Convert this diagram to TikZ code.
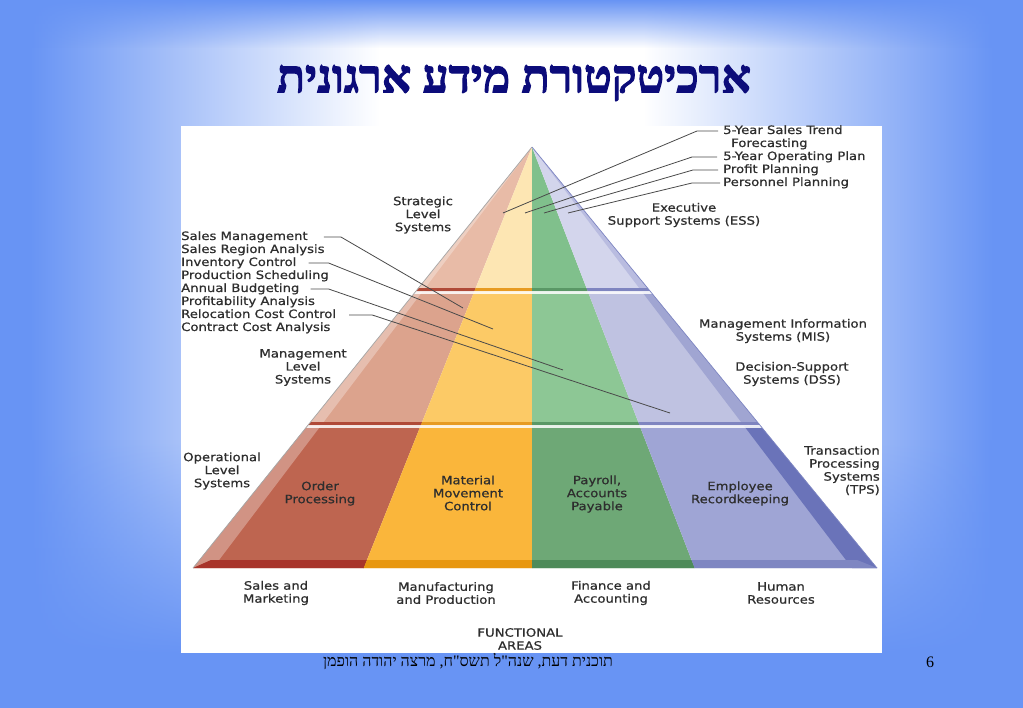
\documentclass[tikz,border=0pt]{standalone}
\usepackage{fontspec}
\usetikzlibrary{fadings}
\TeXXeTstate=1
\newfontfamily\labfont[FakeStretch=1.15,FakeBold=0.7]{DejaVu Sans}
\newfontfamily\hebfont[Script=Hebrew]{Liberation Serif}
\newfontfamily\hebtitle[Script=Hebrew,FakeBold=2.5]{Liberation Serif Bold}
\definecolor{slidebg}{HTML}{6894F4}
\definecolor{txt}{HTML}{2E2E2E}
\definecolor{leadc}{HTML}{4A4A4A}
\definecolor{titlec}{HTML}{0C0C7A}
\definecolor{rT}{HTML}{E8BBA7}\definecolor{yT}{HTML}{FDE6B3}\definecolor{gT}{HTML}{80C08C}\definecolor{bT}{HTML}{D3D5EC}
\definecolor{rM}{HTML}{DCA38D}\definecolor{yM}{HTML}{FCCA66}\definecolor{gM}{HTML}{8DC795}\definecolor{bM}{HTML}{BFC2E1}
\definecolor{rB}{HTML}{BE6550}\definecolor{yB}{HTML}{FAB63B}\definecolor{gB}{HTML}{6EA876}\definecolor{bB}{HTML}{9FA5D5}
\definecolor{rD}{HTML}{B04A38}\definecolor{yD}{HTML}{E79B22}\definecolor{gD}{HTML}{5A9866}\definecolor{bD}{HTML}{7F85C0}
\definecolor{rS}{HTML}{A8342A}\definecolor{yS}{HTML}{E8970F}\definecolor{gS}{HTML}{4E8B59}\definecolor{bS}{HTML}{7E86C2}
\definecolor{sT}{HTML}{B9BCE0}\definecolor{sM}{HTML}{A0A5D2}\definecolor{sB}{HTML}{6A73B9}
\newcommand\pyrsectors[4]{%
  \fill[#1] (A) -- (FL) -- (RY) -- cycle;
  \fill[#2] (A) -- (RY) -- (YG) -- cycle;
  \fill[#3] (A) -- (YG) -- (GB) -- cycle;
  \fill[#4] (A) -- (GB) -- (FR) -- cycle;}
\begin{document}
\begin{tikzpicture}[x=1pt,y=-1pt,
  lab/.style={font=\labfont\fontsize{11.5}{13}\selectfont, text=txt, inner sep=0pt, align=center},
  lst/.style={lab, anchor=west, text height=8.5pt, text depth=2.5pt},
  leader/.style={draw=leadc, line width=0.8pt},
  edge/.style={draw=#1, line width=0.7pt}]
\useasboundingbox (0,0) rectangle (1023,708);
% slide background: horizontal glow, blue at top and bottom
\fill[slidebg] (0,0) rectangle (30,708);
\fill[slidebg] (993,0) rectangle (1023,708);
\shade[left color=slidebg, right color=white] (30,0) rectangle (380,708);
\fill[white] (380,0) rectangle (643,708);
\shade[left color=white, right color=slidebg] (643,0) rectangle (993,708);
\fill[slidebg, path fading=south] (0,0) rectangle (1023,48);
\fill[slidebg, path fading=north] (0,440) rectangle (1023,655);
\fill[slidebg] (0,655) rectangle (1023,708);
\fill[white] (181,126) rectangle (882,653);

% pyramid geometry
\coordinate (A) at (532,147);
\coordinate (BL) at (193,568);
\coordinate (BR) at (877,568);
\coordinate (RY) at (351,600);
\coordinate (YG) at (532,600);
\coordinate (GB) at (707,600);
\coordinate (FL) at (0,600);
\coordinate (FR) at (1023,600);
\coordinate (LB) at (213,568);
\coordinate (RB) at (852,568);

\begin{scope}
  \clip (A) -- (BL) -- (BR) -- cycle;
  \begin{scope}
    \clip (0,140) rectangle (1023,290);
    \pyrsectors{rT}{yT}{gT}{bT}
    \fill[sT] (A) -- (RB) -- (BR) -- cycle;
  \end{scope}
  \begin{scope}
    \clip (0,290) rectangle (1023,424);
    \pyrsectors{rM}{yM}{gM}{bM}
    \fill[sM] (A) -- (RB) -- (BR) -- cycle;
  \end{scope}
  \begin{scope}
    \clip (0,424) rectangle (1023,575);
    \pyrsectors{rB}{yB}{gB}{bB}
    \fill[sB] (A) -- (RB) -- (BR) -- cycle;
  \end{scope}
  \fill[white, opacity=0.3] (A) -- (BL) -- (LB) -- cycle;
  \begin{scope}
    \clip (0,288.5) rectangle (1023,291.5);
    \pyrsectors{rD}{yD}{gD}{bD}
  \end{scope}
  \fill[white, opacity=0.85] (0,291.5) rectangle (1023,294);
  \begin{scope}
    \clip (0,422.5) rectangle (1023,425.5);
    \pyrsectors{rD}{yD}{gD}{bD}
  \end{scope}
  \fill[white, opacity=0.85] (0,425.5) rectangle (1023,428);
  \begin{scope}
    \clip (193,568) -- (211,560) -- (857,560) -- (877,568) -- cycle;
    \pyrsectors{rS}{yS}{gS}{bS}
  \end{scope}
\end{scope}
\draw[edge=gray!70] (BL) -- (A);
\draw[edge=bS] (A) -- (BR);

% title and footer
\node[text=titlec, inner sep=0pt] (title) at (514,83)
  {\hebtitle\fontsize{46}{52}\selectfont\beginR ארכיטקטורת מידע ארגונית\endR};
\node[inner sep=0pt] (foot) at (468,662)
  {\hebfont\fontsize{16}{18}\selectfont\beginR תוכנית דעת, שנה"ל תשס"ח, מרצה יהודה הופמן\endR};
\node[inner sep=0pt] (pg) at (930,662) {\hebfont\fontsize{16}{18}\selectfont 6};

% level labels
\node[lab] (strat) at (423,215) {Strategic\\Level\\Systems};
\node[lab] (mgmt) at (303,367.5) {Management\\Level\\Systems};
\node[lab] (oper) at (222,471) {Operational\\Level\\Systems};
\node[lab] (ess) at (684,215) {Executive\\Support Systems (ESS)};
\node[lab] (mis) at (783,331) {Management Information\\Systems (MIS)};
\node[lab] (dss) at (792,374) {Decision-Support\\Systems (DSS)};
\node[lab, align=right, anchor=east] (tps) at (880,470.5) {Transaction\\Processing\\Systems\\(TPS)};

% functional cells
\node[lab] (order) at (320,493.5) {Order\\Processing};
\node[lab] (matl) at (468,493) {Material\\Movement\\Control};
\node[lab] (pay) at (597,494) {Payroll,\\Accounts\\Payable};
\node[lab] (empl) at (740,493.5) {Employee\\Recordkeeping};

% functional areas
\node[lab] (sales) at (276,593) {Sales and\\Marketing};
\node[lab] (manu) at (446,593) {Manufacturing\\and Production};
\node[lab] (fin) at (611,593) {Finance and\\Accounting};
\node[lab] (hr) at (781,593) {Human\\Resources};
\node[lab] (func) at (520,639) {FUNCTIONAL\\AREAS};

% left list
\node[lst] (sm) at (181,237) {Sales Management};
\node[lst] (sra) at (181,250) {Sales Region Analysis};
\node[lst] (ic) at (181,263) {Inventory Control};
\node[lst] (ps) at (181,276) {Production Scheduling};
\node[lst] (ab) at (181,289) {Annual Budgeting};
\node[lst] (pa) at (181,302) {Profitability Analysis};
\node[lst] (rcc) at (181,315) {Relocation Cost Control};
\node[lst] (cca) at (181,328) {Contract Cost Analysis};

% right list
\node[lst] (st1) at (723,131) {5-Year Sales Trend};
\node[lst] (st2) at (731,144) {Forecasting};
\node[lst] (op) at (723,157) {5-Year Operating Plan};
\node[lst] (pp) at (723,170) {Profit Planning};
\node[lst] (pers) at (723,183) {Personnel Planning};

% leader end points
\coordinate (eSM) at (463,308);
\coordinate (eIC) at (493,329);
\coordinate (eAB) at (563,370);
\coordinate (eRCC) at (670,413);
\coordinate (eST) at (503,213);
\coordinate (eOP) at (525,213);
\coordinate (ePP) at (544,213);
\coordinate (ePE) at (568,213);

\draw[leader] ([xshift=16pt]sm.east) -- ++(17,0) -- (eSM);
\draw[leader] ([xshift=12pt]ic.east) -- ++(20,0) -- (eIC);
\draw[leader] ([xshift=11pt]ab.east) -- ++(18,0) -- (eAB);
\draw[leader] ([xshift=13pt]rcc.east) -- ++(23,0) -- (eRCC);
\draw[leader] ([xshift=-5pt]st1.west) -- ++(-21,0) -- (eST);
\draw[leader] ([xshift=-6pt]op.west) -- ++(-25,0) -- (eOP);
\draw[leader] ([xshift=-5pt]pp.west) -- ++(-25,0) -- (ePP);
\draw[leader] ([xshift=-3pt]pers.west) -- ++(-28,0) -- (ePE);
\end{tikzpicture}
\end{document}
